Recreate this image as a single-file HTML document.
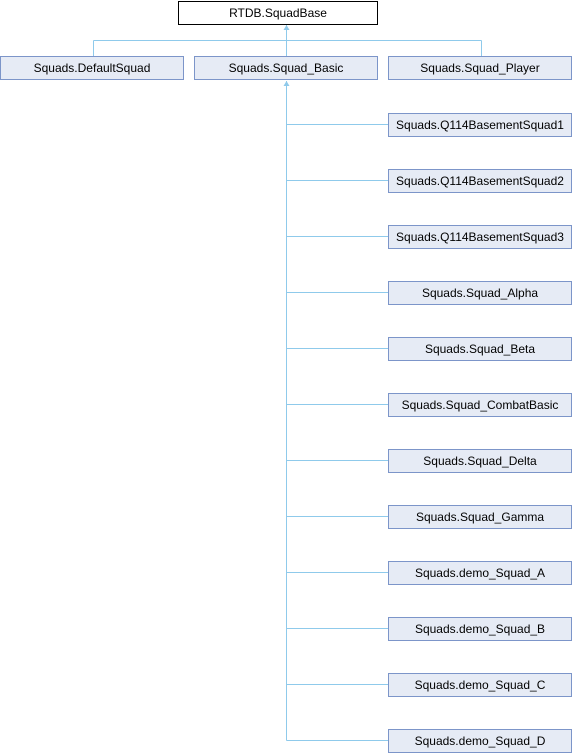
<!DOCTYPE html>
<html><head><style>
body{margin:0;width:572px;height:752px;background:#fff;position:relative;overflow:hidden;font-family:"Liberation Sans",sans-serif;}
.b{position:absolute;box-sizing:border-box;height:24px;border:1px solid #7c95c9;background:#e6ebf5;font-size:12px;line-height:22px;text-align:center;color:#000;white-space:nowrap;}
.top{background:#fff;border-color:#000;}
svg{position:absolute;left:0;top:0;}
</style></head><body>
<svg width="572" height="752">
<g stroke="#8fcaeb" stroke-width="1" fill="none">
<line x1="286.5" y1="25" x2="286.5" y2="56"/>
<line x1="93.5" y1="40.5" x2="481.5" y2="40.5"/>
<line x1="93.5" y1="40.5" x2="93.5" y2="56"/>
<line x1="481.5" y1="40.5" x2="481.5" y2="56"/>
<line x1="286.5" y1="81" x2="286.5" y2="740.5"/>
<line x1="286.5" y1="124.5" x2="388" y2="124.5"/>
<line x1="286.5" y1="180.5" x2="388" y2="180.5"/>
<line x1="286.5" y1="236.5" x2="388" y2="236.5"/>
<line x1="286.5" y1="292.5" x2="388" y2="292.5"/>
<line x1="286.5" y1="348.5" x2="388" y2="348.5"/>
<line x1="286.5" y1="404.5" x2="388" y2="404.5"/>
<line x1="286.5" y1="460.5" x2="388" y2="460.5"/>
<line x1="286.5" y1="516.5" x2="388" y2="516.5"/>
<line x1="286.5" y1="572.5" x2="388" y2="572.5"/>
<line x1="286.5" y1="628.5" x2="388" y2="628.5"/>
<line x1="286.5" y1="684.5" x2="388" y2="684.5"/>
<line x1="286.5" y1="740.5" x2="388" y2="740.5"/>
</g>
<g fill="#8fcaeb">
<polygon points="286.5,25 283.5,30 289.5,30"/>
<polygon points="286.5,81 283.5,86 289.5,86"/>
</g>
</svg>
<div class="b top" style="left:178px;top:1px;width:200px;">RTDB.SquadBase</div>
<div class="b" style="left:0;top:56px;width:184px;">Squads.DefaultSquad</div>
<div class="b" style="left:194px;top:56px;width:184px;">Squads.Squad_Basic</div>
<div class="b" style="left:388px;top:56px;width:184px;">Squads.Squad_Player</div>
<div class="b" style="left:388px;top:113px;width:184px;">Squads.Q114BasementSquad1</div>
<div class="b" style="left:388px;top:169px;width:184px;">Squads.Q114BasementSquad2</div>
<div class="b" style="left:388px;top:225px;width:184px;">Squads.Q114BasementSquad3</div>
<div class="b" style="left:388px;top:281px;width:184px;">Squads.Squad_Alpha</div>
<div class="b" style="left:388px;top:337px;width:184px;">Squads.Squad_Beta</div>
<div class="b" style="left:388px;top:393px;width:184px;">Squads.Squad_CombatBasic</div>
<div class="b" style="left:388px;top:449px;width:184px;">Squads.Squad_Delta</div>
<div class="b" style="left:388px;top:505px;width:184px;">Squads.Squad_Gamma</div>
<div class="b" style="left:388px;top:561px;width:184px;">Squads.demo_Squad_A</div>
<div class="b" style="left:388px;top:617px;width:184px;">Squads.demo_Squad_B</div>
<div class="b" style="left:388px;top:673px;width:184px;">Squads.demo_Squad_C</div>
<div class="b" style="left:388px;top:729px;width:184px;">Squads.demo_Squad_D</div>
</body></html>
